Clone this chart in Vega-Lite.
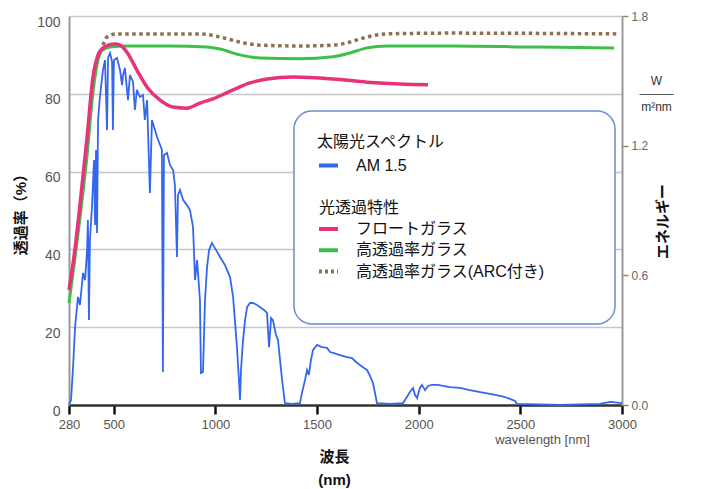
{
  "$schema": "https://vega.github.io/schema/vega-lite/v6.json",
  "width": 553,
  "height": 389,
  "autosize": {"type": "none"},
  "padding": {"left": 69, "top": 16, "right": 80, "bottom": 84},
  "background": "white",
  "config": {
    "view": {"stroke": null},
    "font": "Liberation Sans, Noto Sans CJK JP, sans-serif",
    "legend": {
      "orient": "none",
      "padding": 23,
      "strokeColor": "#6a8fcf",
      "fillColor": "white",
      "cornerRadius": 18,
      "strokeWidth": 1.5,
      "titleFontSize": 16, "titleFontWeight": "normal", "titleColor": "#111",
      "labelFontSize": 16, "labelColor": "#111", "labelOffset": 16,
      "rowPadding": 1.2, "titlePadding": 4,
      "symbolType": "stroke", "symbolStrokeWidth": 4, "symbolSize": 361, "labelLimit": 400
    }
  },
  "datasets": {
    "glass": [
      {"w": 280, "p": 29.6, "series": "フロートガラス"},
      {"w": 305, "p": 38.3, "series": "フロートガラス"},
      {"w": 334, "p": 51.4, "series": "フロートガラス"},
      {"w": 369, "p": 68.9, "series": "フロートガラス"},
      {"w": 398, "p": 84.3, "series": "フロートガラス"},
      {"w": 423, "p": 90.0, "series": "フロートガラス"},
      {"w": 447, "p": 91.8, "series": "フロートガラス"},
      {"w": 472, "p": 92.5, "series": "フロートガラス"},
      {"w": 506, "p": 92.8, "series": "フロートガラス"},
      {"w": 531, "p": 92.5, "series": "フロートガラス"},
      {"w": 565, "p": 90.7, "series": "フロートガラス"},
      {"w": 614, "p": 86.1, "series": "フロートガラス"},
      {"w": 664, "p": 81.7, "series": "フロートガラス"},
      {"w": 728, "p": 78.4, "series": "フロートガラス"},
      {"w": 792, "p": 76.6, "series": "フロートガラス"},
      {"w": 860, "p": 76.3, "series": "フロートガラス"},
      {"w": 924, "p": 77.6, "series": "フロートガラス"},
      {"w": 988, "p": 78.7, "series": "フロートガラス"},
      {"w": 1087, "p": 81.0, "series": "フロートガラス"},
      {"w": 1170, "p": 82.8, "series": "フロートガラス"},
      {"w": 1254, "p": 83.8, "series": "フロートガラス"},
      {"w": 1382, "p": 84.3, "series": "フロートガラス"},
      {"w": 1579, "p": 83.8, "series": "フロートガラス"},
      {"w": 1746, "p": 83.0, "series": "フロートガラス"},
      {"w": 1908, "p": 82.5, "series": "フロートガラス"},
      {"w": 2046, "p": 82.3, "series": "フロートガラス"},
      {"w": 280, "p": 26.2, "series": "高透過率ガラス"},
      {"w": 305, "p": 36.0, "series": "高透過率ガラス"},
      {"w": 334, "p": 48.1, "series": "高透過率ガラス"},
      {"w": 369, "p": 64.3, "series": "高透過率ガラス"},
      {"w": 398, "p": 80.5, "series": "高透過率ガラス"},
      {"w": 423, "p": 88.7, "series": "高透過率ガラス"},
      {"w": 447, "p": 91.3, "series": "高透過率ガラス"},
      {"w": 482, "p": 92.0, "series": "高透過率ガラス"},
      {"w": 565, "p": 92.3, "series": "高透過率ガラス"},
      {"w": 777, "p": 92.3, "series": "高透過率ガラス"},
      {"w": 959, "p": 92.0, "series": "高透過率ガラス"},
      {"w": 1023, "p": 91.5, "series": "高透過率ガラス"},
      {"w": 1121, "p": 90.0, "series": "高透過率ガラス"},
      {"w": 1219, "p": 89.2, "series": "高透過率ガラス"},
      {"w": 1416, "p": 89.0, "series": "高透過率ガラス"},
      {"w": 1578, "p": 89.5, "series": "高透過率ガラス"},
      {"w": 1662, "p": 90.5, "series": "高透過率ガラス"},
      {"w": 1746, "p": 91.8, "series": "高透過率ガラス"},
      {"w": 1844, "p": 92.3, "series": "高透過率ガラス"},
      {"w": 2154, "p": 92.3, "series": "高透過率ガラス"},
      {"w": 2597, "p": 92.0, "series": "高透過率ガラス"},
      {"w": 2961, "p": 91.8, "series": "高透過率ガラス"},
      {"w": 447, "p": 92.5, "series": "高透過率ガラス(ARC付き)"},
      {"w": 467, "p": 94.6, "series": "高透過率ガラス(ARC付き)"},
      {"w": 516, "p": 95.4, "series": "高透過率ガラス(ARC付き)"},
      {"w": 924, "p": 95.4, "series": "高透過率ガラス(ARC付き)"},
      {"w": 1023, "p": 94.6, "series": "高透過率ガラス(ARC付き)"},
      {"w": 1121, "p": 93.3, "series": "高透過率ガラス(ARC付き)"},
      {"w": 1219, "p": 92.5, "series": "高透過率ガラス(ARC付き)"},
      {"w": 1416, "p": 92.3, "series": "高透過率ガラス(ARC付き)"},
      {"w": 1578, "p": 92.5, "series": "高透過率ガラス(ARC付き)"},
      {"w": 1662, "p": 93.3, "series": "高透過率ガラス(ARC付き)"},
      {"w": 1746, "p": 94.6, "series": "高透過率ガラス(ARC付き)"},
      {"w": 1844, "p": 95.4, "series": "高透過率ガラス(ARC付き)"},
      {"w": 2154, "p": 95.6, "series": "高透過率ガラス(ARC付き)"},
      {"w": 2980, "p": 95.4, "series": "高透過率ガラス(ARC付き)"}
    ],
    "spectrum": [
      {"w": 280, "e": 0, "series": "AM 1.5"},
      {"w": 290, "e": 0.023, "series": "AM 1.5"},
      {"w": 300, "e": 0.176, "series": "AM 1.5"},
      {"w": 310, "e": 0.361, "series": "AM 1.5"},
      {"w": 324, "e": 0.5, "series": "AM 1.5"},
      {"w": 334, "e": 0.463, "series": "AM 1.5"},
      {"w": 349, "e": 0.611, "series": "AM 1.5"},
      {"w": 359, "e": 0.578, "series": "AM 1.5"},
      {"w": 369, "e": 0.717, "series": "AM 1.5"},
      {"w": 373, "e": 0.856, "series": "AM 1.5"},
      {"w": 378, "e": 0.393, "series": "AM 1.5"},
      {"w": 383, "e": 0.763, "series": "AM 1.5"},
      {"w": 393, "e": 0.916, "series": "AM 1.5"},
      {"w": 403, "e": 1.134, "series": "AM 1.5"},
      {"w": 408, "e": 0.833, "series": "AM 1.5"},
      {"w": 413, "e": 1.18, "series": "AM 1.5"},
      {"w": 418, "e": 0.796, "series": "AM 1.5"},
      {"w": 423, "e": 1.319, "series": "AM 1.5"},
      {"w": 432, "e": 1.425, "series": "AM 1.5"},
      {"w": 447, "e": 1.55, "series": "AM 1.5"},
      {"w": 457, "e": 1.596, "series": "AM 1.5"},
      {"w": 467, "e": 1.272, "series": "AM 1.5"},
      {"w": 472, "e": 1.606, "series": "AM 1.5"},
      {"w": 482, "e": 1.629, "series": "AM 1.5"},
      {"w": 492, "e": 1.587, "series": "AM 1.5"},
      {"w": 496, "e": 1.272, "series": "AM 1.5"},
      {"w": 501, "e": 1.596, "series": "AM 1.5"},
      {"w": 516, "e": 1.606, "series": "AM 1.5"},
      {"w": 531, "e": 1.55, "series": "AM 1.5"},
      {"w": 541, "e": 1.48, "series": "AM 1.5"},
      {"w": 546, "e": 1.527, "series": "AM 1.5"},
      {"w": 555, "e": 1.559, "series": "AM 1.5"},
      {"w": 570, "e": 1.411, "series": "AM 1.5"},
      {"w": 580, "e": 1.527, "series": "AM 1.5"},
      {"w": 595, "e": 1.495, "series": "AM 1.5"},
      {"w": 604, "e": 1.365, "series": "AM 1.5"},
      {"w": 614, "e": 1.458, "series": "AM 1.5"},
      {"w": 629, "e": 1.425, "series": "AM 1.5"},
      {"w": 644, "e": 1.434, "series": "AM 1.5"},
      {"w": 653, "e": 1.319, "series": "AM 1.5"},
      {"w": 664, "e": 1.411, "series": "AM 1.5"},
      {"w": 678, "e": 0.981, "series": "AM 1.5"},
      {"w": 688, "e": 1.319, "series": "AM 1.5"},
      {"w": 703, "e": 1.272, "series": "AM 1.5"},
      {"w": 713, "e": 1.24, "series": "AM 1.5"},
      {"w": 728, "e": 1.203, "series": "AM 1.5"},
      {"w": 737, "e": 1.18, "series": "AM 1.5"},
      {"w": 742, "e": 0.153, "series": "AM 1.5"},
      {"w": 747, "e": 1.157, "series": "AM 1.5"},
      {"w": 762, "e": 1.166, "series": "AM 1.5"},
      {"w": 777, "e": 1.11, "series": "AM 1.5"},
      {"w": 792, "e": 1.087, "series": "AM 1.5"},
      {"w": 801, "e": 1.018, "series": "AM 1.5"},
      {"w": 811, "e": 0.685, "series": "AM 1.5"},
      {"w": 816, "e": 0.972, "series": "AM 1.5"},
      {"w": 826, "e": 0.995, "series": "AM 1.5"},
      {"w": 841, "e": 0.949, "series": "AM 1.5"},
      {"w": 860, "e": 0.925, "series": "AM 1.5"},
      {"w": 875, "e": 0.902, "series": "AM 1.5"},
      {"w": 890, "e": 0.824, "series": "AM 1.5"},
      {"w": 900, "e": 0.578, "series": "AM 1.5"},
      {"w": 910, "e": 0.671, "series": "AM 1.5"},
      {"w": 924, "e": 0.486, "series": "AM 1.5"},
      {"w": 929, "e": 0.148, "series": "AM 1.5"},
      {"w": 939, "e": 0.153, "series": "AM 1.5"},
      {"w": 949, "e": 0.486, "series": "AM 1.5"},
      {"w": 959, "e": 0.639, "series": "AM 1.5"},
      {"w": 969, "e": 0.717, "series": "AM 1.5"},
      {"w": 983, "e": 0.75, "series": "AM 1.5"},
      {"w": 998, "e": 0.726, "series": "AM 1.5"},
      {"w": 1023, "e": 0.685, "series": "AM 1.5"},
      {"w": 1047, "e": 0.648, "series": "AM 1.5"},
      {"w": 1072, "e": 0.592, "series": "AM 1.5"},
      {"w": 1087, "e": 0.5, "series": "AM 1.5"},
      {"w": 1096, "e": 0.393, "series": "AM 1.5"},
      {"w": 1106, "e": 0.268, "series": "AM 1.5"},
      {"w": 1116, "e": 0.116, "series": "AM 1.5"},
      {"w": 1121, "e": 0.023, "series": "AM 1.5"},
      {"w": 1126, "e": 0.162, "series": "AM 1.5"},
      {"w": 1136, "e": 0.301, "series": "AM 1.5"},
      {"w": 1146, "e": 0.393, "series": "AM 1.5"},
      {"w": 1156, "e": 0.453, "series": "AM 1.5"},
      {"w": 1170, "e": 0.472, "series": "AM 1.5"},
      {"w": 1185, "e": 0.472, "series": "AM 1.5"},
      {"w": 1205, "e": 0.463, "series": "AM 1.5"},
      {"w": 1219, "e": 0.453, "series": "AM 1.5"},
      {"w": 1239, "e": 0.44, "series": "AM 1.5"},
      {"w": 1254, "e": 0.426, "series": "AM 1.5"},
      {"w": 1264, "e": 0.268, "series": "AM 1.5"},
      {"w": 1274, "e": 0.403, "series": "AM 1.5"},
      {"w": 1283, "e": 0.393, "series": "AM 1.5"},
      {"w": 1298, "e": 0.324, "series": "AM 1.5"},
      {"w": 1308, "e": 0.301, "series": "AM 1.5"},
      {"w": 1318, "e": 0.208, "series": "AM 1.5"},
      {"w": 1328, "e": 0.116, "series": "AM 1.5"},
      {"w": 1342, "e": 0.009, "series": "AM 1.5"},
      {"w": 1377, "e": 0.005, "series": "AM 1.5"},
      {"w": 1416, "e": 0.009, "series": "AM 1.5"},
      {"w": 1426, "e": 0.056, "series": "AM 1.5"},
      {"w": 1441, "e": 0.116, "series": "AM 1.5"},
      {"w": 1451, "e": 0.162, "series": "AM 1.5"},
      {"w": 1460, "e": 0.139, "series": "AM 1.5"},
      {"w": 1470, "e": 0.208, "series": "AM 1.5"},
      {"w": 1480, "e": 0.254, "series": "AM 1.5"},
      {"w": 1500, "e": 0.278, "series": "AM 1.5"},
      {"w": 1524, "e": 0.268, "series": "AM 1.5"},
      {"w": 1549, "e": 0.264, "series": "AM 1.5"},
      {"w": 1564, "e": 0.245, "series": "AM 1.5"},
      {"w": 1579, "e": 0.241, "series": "AM 1.5"},
      {"w": 1613, "e": 0.231, "series": "AM 1.5"},
      {"w": 1647, "e": 0.222, "series": "AM 1.5"},
      {"w": 1672, "e": 0.217, "series": "AM 1.5"},
      {"w": 1692, "e": 0.199, "series": "AM 1.5"},
      {"w": 1711, "e": 0.185, "series": "AM 1.5"},
      {"w": 1731, "e": 0.171, "series": "AM 1.5"},
      {"w": 1746, "e": 0.162, "series": "AM 1.5"},
      {"w": 1761, "e": 0.134, "series": "AM 1.5"},
      {"w": 1775, "e": 0.102, "series": "AM 1.5"},
      {"w": 1785, "e": 0.056, "series": "AM 1.5"},
      {"w": 1795, "e": 0.009, "series": "AM 1.5"},
      {"w": 1859, "e": 0.005, "series": "AM 1.5"},
      {"w": 1923, "e": 0.009, "series": "AM 1.5"},
      {"w": 1942, "e": 0.037, "series": "AM 1.5"},
      {"w": 1957, "e": 0.06, "series": "AM 1.5"},
      {"w": 1972, "e": 0.079, "series": "AM 1.5"},
      {"w": 1982, "e": 0.046, "series": "AM 1.5"},
      {"w": 1992, "e": 0.032, "series": "AM 1.5"},
      {"w": 2006, "e": 0.079, "series": "AM 1.5"},
      {"w": 2016, "e": 0.093, "series": "AM 1.5"},
      {"w": 2031, "e": 0.069, "series": "AM 1.5"},
      {"w": 2046, "e": 0.088, "series": "AM 1.5"},
      {"w": 2065, "e": 0.093, "series": "AM 1.5"},
      {"w": 2095, "e": 0.093, "series": "AM 1.5"},
      {"w": 2120, "e": 0.088, "series": "AM 1.5"},
      {"w": 2154, "e": 0.083, "series": "AM 1.5"},
      {"w": 2203, "e": 0.079, "series": "AM 1.5"},
      {"w": 2252, "e": 0.069, "series": "AM 1.5"},
      {"w": 2302, "e": 0.06, "series": "AM 1.5"},
      {"w": 2351, "e": 0.051, "series": "AM 1.5"},
      {"w": 2400, "e": 0.042, "series": "AM 1.5"},
      {"w": 2424, "e": 0.037, "series": "AM 1.5"},
      {"w": 2449, "e": 0.028, "series": "AM 1.5"},
      {"w": 2474, "e": 0.019, "series": "AM 1.5"},
      {"w": 2484, "e": 0.005, "series": "AM 1.5"},
      {"w": 2695, "e": 0, "series": "AM 1.5"},
      {"w": 2892, "e": 0.005, "series": "AM 1.5"},
      {"w": 2941, "e": 0.014, "series": "AM 1.5"},
      {"w": 3000, "e": 0.009, "series": "AM 1.5"}
    ]
  },
  "layer": [
    {
      "data": {"name": "spectrum"},
      "mark": {"type": "line", "strokeWidth": 1.8},
      "encoding": {
        "x": {
          "field": "w", "type": "quantitative",
          "scale": {"domain": [280, 3000], "nice": false, "zero": false},
          "axis": {
            "values": [280, 500, 1000, 1500, 2000, 2500, 3000],
            "format": "d",
            "labelExpr": "datum.value == 2500 ? ['2500', '\u200b\u00a0\u00a0\u00a0\u00a0\u00a0\u00a0\u00a0\u00a0\u00a0\u00a0\u00a0\u00a0wavelength [nm]'] : datum.label",
            "grid": false, "ticks": true, "domain": true, "labels": true,
            "domainColor": "#333", "domainWidth": 2.5,
            "tickColor": "#111", "tickWidth": 2.5, "tickSize": 9,
            "labelFontSize": 13, "labelColor": "#555", "labelPadding": 4,
            "labelLineHeight": 15,
            "labelFlush": false, "labelOverlap": false,
            "title": ["波長", "(nm)"],
            "titleFontSize": 15, "titleFontWeight": "bold", "titleColor": "#111",
            "titleLineHeight": 23,
            "titleX": 265, "titleY": 44, "titleAlign": "center", "titleBaseline": "top"
          }
        },
        "y": {
          "field": "e", "type": "quantitative",
          "scale": {"domain": [0, 1.8], "nice": false},
          "axis": {
            "orient": "right",
            "values": [0, 0.6, 1.2, 1.5, 1.8], "format": ".1f",
            "labelExpr": "datum.value == 1.5 ? ['W', '\u2500\u2500\u2500\u2500', 'm²nm'] : datum.label",
            "grid": false, "ticks": true, "domain": true, "labels": true,
            "domainColor": "#999", "domainWidth": 2,
            "tickColor": {"condition": {"test": "datum.value == 1.5", "value": "transparent"}, "value": "#888"},
            "tickWidth": 1.5, "tickSize": 6,
            "labelFontSize": 12,
            "labelColor": {"condition": {"test": "datum.value == 1.5", "value": "#333"}, "value": "#666"},
            "labelAlign": {"condition": {"test": "datum.value == 1.5", "value": "center"}, "value": "left"},
            "labelPadding": {"condition": {"test": "datum.value == 1.5", "value": 28}, "value": 3},
            "labelLineHeight": 13, "labelOverlap": false,
            "title": "エネルギー", "titleAngle": 270,
            "titleFontSize": 15, "titleFontWeight": "bold", "titleColor": "#111",
            "titleX": 40, "titleY": 205, "titleAlign": "center", "titleBaseline": "middle"
          }
        },
        "color": {
          "field": "series", "type": "nominal",
          "scale": {
            "domain": ["AM 1.5", "\u200b\u00a0\u200b", "光透過特性", "フロートガラス", "高透過率ガラス", "高透過率ガラス(ARC付き)", "\u200b\u00a0\u00a0\u00a0\u00a0\u00a0\u00a0\u00a0\u00a0\u00a0\u00a0\u00a0\u00a0\u00a0\u00a0\u00a0\u00a0\u00a0\u00a0\u00a0\u00a0\u00a0\u00a0\u00a0\u00a0\u00a0\u00a0\u00a0\u00a0\u00a0\u00a0\u00a0\u00a0\u00a0\u00a0\u00a0\u00a0\u00a0\u00a0\u00a0\u00a0\u00a0\u00a0\u00a0\u00a0\u00a0\u00a0\u00a0\u00a0\u00a0\u00a0\u00a0\u00a0\u00a0\u200b"],
            "range": ["#3567ee", "transparent", "transparent", "#e8337a", "#3cc04b", "#8c7052", "transparent"]
          },
          "legend": {
            "title": "太陽光スペクトル", "legendX": 225, "legendY": 95,
            "encode": {
              "labels": {"update": {"dx": {"signal": "datum.label === '光透過特性' ? -37 : 0"}}},
              "symbols": {"update": {"strokeDash": {"signal": "datum.label === '高透過率ガラス(ARC付き)' ? [3, 3] : [1, 0]"}}}
            }
          }
        }
      }
    },
    {
      "data": {"name": "glass"},
      "layer": [
        {
          "transform": [{"filter": "datum.series === '高透過率ガラス'"}],
          "mark": {"type": "line", "strokeWidth": 3, "interpolate": "monotone"},
          "encoding": {
            "x": {"field": "w", "type": "quantitative", "scale": {"domain": [280, 3000], "nice": false, "zero": false}},
            "y": {
              "field": "p", "type": "quantitative",
              "scale": {"domain": [0, 100], "nice": false},
              "axis": {
                "orient": "left",
                "values": [0, 10, 20, 30, 40, 50, 60, 70, 80, 90, 100],
                "labelExpr": "datum.value == 90 ? '%' : (datum.value % 20 == 0 ? datum.label : '')",
                "grid": true, "ticks": false, "domain": true, "labels": true,
                "gridColor": "#c6c6c6", "gridWidth": 1.5,
                "domainColor": "#999", "domainWidth": 2,
                "labelFontSize": 14, "labelColor": "#555", "labelPadding": 9, "labelOffset": 6,
                "labelOverlap": false,
                "title": "透過率（%）",
                "titleFontSize": 15, "titleFontWeight": "bold", "titleColor": "#111",
                "titlePadding": 8
              }
            },
            "color": {"field": "series", "type": "nominal"}
          }
        },
        {
          "transform": [{"filter": "datum.series === '高透過率ガラス(ARC付き)'"}],
          "mark": {"type": "line", "strokeWidth": 3.5, "strokeDash": [3.5, 3.5], "interpolate": "monotone"},
          "encoding": {
            "x": {"field": "w", "type": "quantitative", "scale": {"domain": [280, 3000], "nice": false, "zero": false}},
            "y": {"field": "p", "type": "quantitative", "scale": {"domain": [0, 100], "nice": false}},
            "color": {"field": "series", "type": "nominal"}
          }
        },
        {
          "transform": [{"filter": "datum.series === 'フロートガラス'"}],
          "mark": {"type": "line", "strokeWidth": 3.5, "interpolate": "monotone"},
          "encoding": {
            "x": {"field": "w", "type": "quantitative", "scale": {"domain": [280, 3000], "nice": false, "zero": false}},
            "y": {"field": "p", "type": "quantitative", "scale": {"domain": [0, 100], "nice": false}},
            "color": {"field": "series", "type": "nominal"}
          }
        }
      ]
    }
  ],
  "resolve": {
    "scale": {"y": "independent"},
    "axis": {"y": "independent"}
  }
}
